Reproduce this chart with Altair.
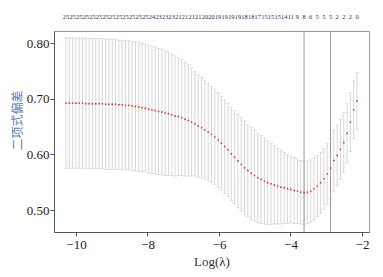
import altair as alt
import numpy as np
import pandas as pd

# cross-validated binomial deviance (mean) and its standard error, one per lambda
mean_dev = [
    0.692, 0.692, 0.692, 0.692, 0.692, 0.692, 0.691, 0.691, 0.691, 0.691,
    0.691, 0.691, 0.690, 0.690, 0.690, 0.690, 0.689, 0.689, 0.688, 0.688,
    0.687, 0.686, 0.685, 0.684, 0.683, 0.681, 0.680, 0.679, 0.677, 0.676,
    0.674, 0.673, 0.671, 0.669, 0.668, 0.666, 0.663, 0.661, 0.658, 0.655,
    0.651, 0.648, 0.644, 0.640, 0.636, 0.631, 0.626, 0.620, 0.614, 0.608,
    0.601, 0.595, 0.588, 0.582, 0.576, 0.571, 0.566, 0.562, 0.558, 0.555,
    0.552, 0.549, 0.547, 0.545, 0.543, 0.541, 0.540, 0.538, 0.537, 0.535,
    0.534, 0.532, 0.531, 0.532, 0.534, 0.538, 0.543, 0.549, 0.556, 0.565,
    0.575, 0.589, 0.598, 0.609, 0.621, 0.638, 0.658, 0.680, 0.696,
]
se_dev = [
    0.117, 0.117, 0.117, 0.117, 0.117, 0.117, 0.117, 0.117, 0.117, 0.117,
    0.117, 0.117, 0.117, 0.117, 0.117, 0.117, 0.116, 0.116, 0.116, 0.116,
    0.116, 0.116, 0.116, 0.115, 0.115, 0.115, 0.114, 0.114, 0.113, 0.113,
    0.112, 0.111, 0.109, 0.108, 0.106, 0.104, 0.102, 0.100, 0.097, 0.094,
    0.092, 0.090, 0.088, 0.087, 0.086, 0.085, 0.085, 0.084, 0.084, 0.084,
    0.084, 0.084, 0.084, 0.084, 0.084, 0.083, 0.083, 0.082, 0.080, 0.079,
    0.077, 0.075, 0.073, 0.070, 0.068, 0.066, 0.064, 0.062, 0.060, 0.059,
    0.058, 0.057, 0.057, 0.056, 0.056, 0.056, 0.055, 0.055, 0.055, 0.055,
    0.055, 0.055, 0.054, 0.054, 0.054, 0.053, 0.053, 0.052, 0.051,
]
# number of non-zero coefficients shown on the top axis (every second lambda)
nz_labels = [
    "25", "25", "25", "25", "25", "25", "25", "25", "25", "25", "25", "25", "25",
    "24", "23", "23", "23", "21", "21", "21", "21", "20", "20",
    "19", "19", "19", "19", "18", "18", "17", "15", "15", "15",
    "14", "11", "9", "8", "6", "5", "5", "5", "2", "2", "2", "0",
]
idx_min, idx_1se = 72, 80

n = len(mean_dev)
log_lambda = np.linspace(-10.28, -2.14, n)  # glmnet lambda grid (log-spaced)
mean_arr = np.array(mean_dev)
se_arr = np.array(se_dev)

df = pd.DataFrame({
    "loglam": log_lambda,
    "mean": mean_arr,
    "lo": mean_arr - se_arr,
    "hi": mean_arr + se_arr,
})
df_top = pd.DataFrame({"loglam": log_lambda[::2], "lab": nz_labels})
df_v = pd.DataFrame({"loglam": [log_lambda[idx_min], log_lambda[idx_1se]]})

serif = "Liberation Serif"
x_scale = alt.Scale(domain=[-10.615, -1.804], nice=False, zero=False)
y_scale = alt.Scale(domain=[0.4605, 0.8216], nice=False, zero=False)

bar_col = "#cdcdcd"

bars = alt.Chart(df).mark_rule(color=bar_col, strokeWidth=0.8).encode(
    x=alt.X("loglam:Q", scale=x_scale, axis=alt.Axis(
        title="Log(λ)", values=[-10, -8, -6, -4, -2], format="d",
        labelFont=serif, labelFontSize=13, labelColor="#222",
        labelPadding=2, tickSize=4, tickColor="#555", domainColor="#555",
        grid=False, titleFont=serif, titleFontSize=13, titleFontWeight="normal",
        titleColor="#333", titleBaseline="alphabetic", titleY=33,
    )),
    y=alt.Y("lo:Q", scale=y_scale, axis=alt.Axis(
        title="二项式偏差", values=[0.50, 0.55, 0.60, 0.65, 0.70, 0.75, 0.80],
        format=".2f", labelFont=serif, labelFontSize=13, labelColor="#222",
        labelPadding=1, tickSize=4, tickColor="#555", domainColor="#555",
        grid=False, titleFont="Noto Sans CJK SC", titleFontSize=12,
        titleFontWeight="normal", titleColor="#5a7bb0",
        titleX=-37, titleY=89, titleBaseline="middle", titleAlign="center",
    )),
    y2="hi:Q",
)
cap_hi = alt.Chart(df).mark_tick(orient="horizontal", color=bar_col, size=4, thickness=0.8).encode(
    x="loglam:Q", y="hi:Q")
cap_lo = alt.Chart(df).mark_tick(orient="horizontal", color=bar_col, size=4, thickness=0.8).encode(
    x="loglam:Q", y="lo:Q")
vlines = alt.Chart(df_v).mark_rule(color="#9a9a9a", strokeWidth=1).encode(x="loglam:Q")
points = alt.Chart(df).mark_circle(size=3.5, color="#e0403a", opacity=1).encode(
    x="loglam:Q", y="mean:Q")
top = alt.Chart(df_top).mark_text(
    fontSize=6.4, font=serif,
    color="#1f1f4f", baseline="middle", align="center",
).encode(x="loglam:Q", y=alt.value(-14), text="lab:N")

chart = alt.layer(bars, cap_hi, cap_lo, vlines, points, top).properties(
    width=315, height=201,
    autosize=alt.AutoSizeParams(type="none"),
    padding={"left": 54, "top": 31, "right": 14, "bottom": 45},
    background="white",
).configure_view(stroke="#999", strokeWidth=1)

chart.save("out.html", embed_options={"renderer": "svg", "actions": False})
